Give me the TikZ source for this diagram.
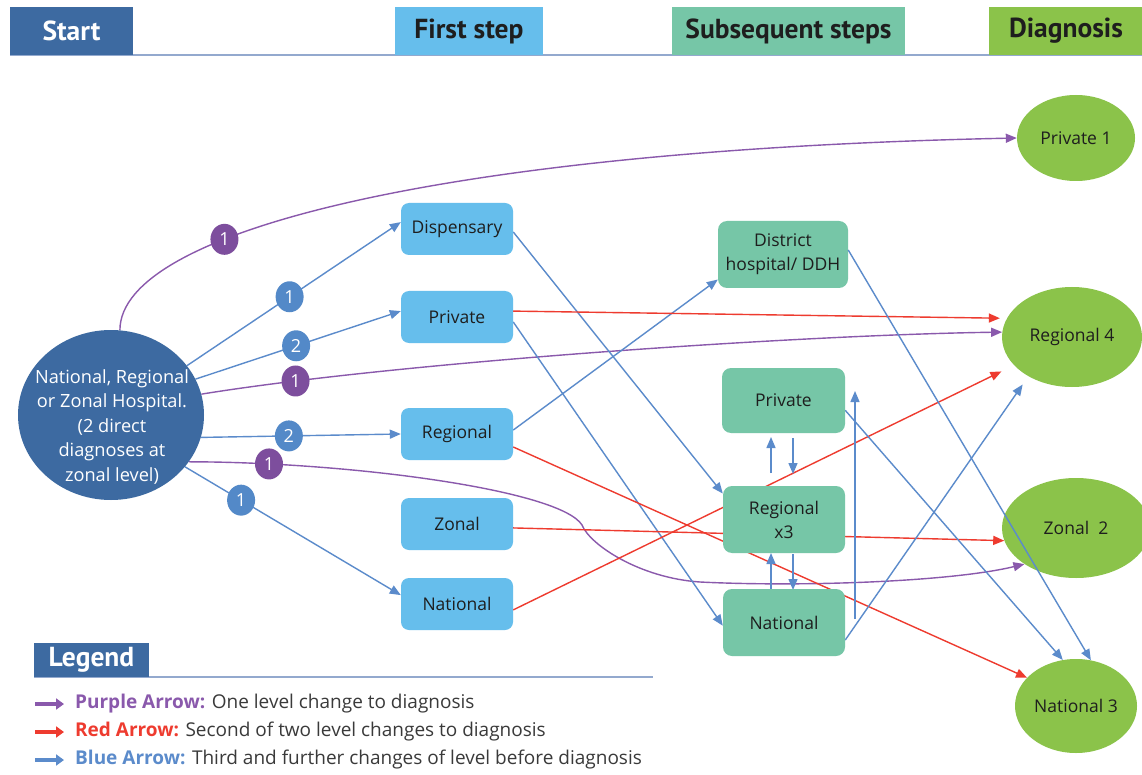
\documentclass[tikz,border=0pt]{standalone}
\usepackage{fontspec}
\setmainfont{Open Sans}
\newfontfamily\hdrfam{PT Sans}
\usetikzlibrary{arrows.meta,shapes.geometric,backgrounds}
\definecolor{dblue}{HTML}{3D6AA1}
\definecolor{lblue}{HTML}{66BEEC}
\definecolor{tealb}{HTML}{76C6A7}
\definecolor{lgreen}{HTML}{8BC34A}
\definecolor{purp}{HTML}{8A59AC}
\definecolor{purpf}{HTML}{7D4E9D}
\definecolor{redl}{HTML}{EE3B2F}
\definecolor{bluel}{HTML}{5B8BCB}
\definecolor{bluef}{HTML}{5389C8}
\definecolor{rulec}{HTML}{93A9CE}
\definecolor{txt}{HTML}{1E1E1E}
\definecolor{gtxt}{HTML}{3A3A3A}
\tikzset{
  hdr/.style={rectangle,inner sep=0pt,minimum height=48pt,text=txt,font=\hdrfam\bfseries\fontsize{27.5}{30}\selectfont},
  fbox/.style={rectangle,rounded corners=8pt,fill=lblue,minimum width=112pt,minimum height=52pt,inner sep=0pt,text=txt,font=\fontsize{17.5}{23}\selectfont,align=center},
  sbox/.style={rectangle,rounded corners=9pt,fill=tealb,inner sep=0pt,text=txt,font=\fontsize{17.5}{24}\selectfont,align=center},
  diag/.style={ellipse,fill=lgreen,inner sep=0pt,text=txt,font=\fontsize{17.5}{22}\selectfont},
  lbl/.style={ellipse,fill=#1,minimum width=28pt,minimum height=31pt,inner sep=0pt,text=white,font=\fontsize{18}{20}\selectfont},
  arrowtip/.style={-{Triangle[length=11pt,width=9pt]}},
  bl/.style={draw=bluel,line width=1.4pt,arrowtip},
  rl/.style={draw=redl,line width=1.4pt,arrowtip},
  pl/.style={draw=purp,line width=1.4pt,arrowtip},
  legarr/.style={line width=3.5pt,-{Triangle[length=8pt,width=11pt]}},
  legtxt/.style={anchor=west,inner sep=0pt,text=gtxt,font=\fontsize{19}{21}\selectfont},
}
\begin{document}
\begin{tikzpicture}[x=1pt,y=-1pt]
\useasboundingbox (0,0) rectangle (1142,775);
\begin{pgfonlayer}{background}
\fill[white] (0,0) rectangle (1142,775);
\end{pgfonlayer}

% header
\draw[rulec,line width=2pt] (10,55) -- (1142,55);
\node[hdr,fill=dblue,minimum width=123pt,text=white] (hstart) at (71.5,31) {Start};
\node[hdr,fill=lblue,minimum width=148pt] (hfirst) at (469,31) {First step};
\node[hdr,fill=tealb,minimum width=233pt] (hsub) at (788.5,31) {Subsequent steps};
\node[hdr,fill=lgreen,minimum width=154pt] (hdiag) at (1066,31) {Diagnosis};

% start
\node[ellipse,fill=dblue,minimum width=186pt,minimum height=170pt,inner sep=0pt] (start) at (111,415) {};
\node[align=center,text=white,inner sep=0pt,font=\fontsize{18.2}{24.5}\selectfont] (starttext) at (112,427)
  {National, Regional\\or Zonal Hospital.\\(2 direct\\diagnoses at\\zonal level)};

% first step
\node[fbox] (disp) at (457,229) {Dispensary};
\node[fbox] (priv1) at (457,317) {Private};
\node[fbox] (reg1) at (457,434) {Regional};
\node[fbox] (zon1) at (457,524) {Zonal};
\node[fbox] (nat1) at (457,604) {National};

% subsequent
\node[sbox,minimum width=130pt,minimum height=67pt] (ddh) at (783,254.5) {District\\hospital/ DDH};
\node[sbox,minimum width=123pt,minimum height=65pt] (privS) at (783.5,400.5) {Private};
\node[sbox,minimum width=122pt,minimum height=67pt] (regS) at (784,519.5) {Regional\\x3};
\node[sbox,minimum width=122pt,minimum height=67pt] (natS) at (784,622.5) {National};

% diagnosis
\node[diag,minimum width=118pt,minimum height=86pt] (dpriv) at (1076,138) {Private 1};
\node[diag,minimum width=140pt,minimum height=100pt] (dreg) at (1072,337) {Regional 4};
\node[diag,minimum width=148pt,minimum height=100pt] (dzon) at (1076,528) {Zonal~~2};
\node[diag,minimum width=122pt,minimum height=94pt] (dnat) at (1076,706) {National 3};

% free coordinates
\coordinate (a1s) at (771,473); \coordinate (a1e) at (771,437);
\coordinate (a2s) at (793,438); \coordinate (a2e) at (793,474);
\coordinate (a3s) at (771,589); \coordinate (a3e) at (771,553);
\coordinate (a4s) at (793,554); \coordinate (a4e) at (793,590);
\coordinate (vb) at (855,619); \coordinate (vt) at (855,391);

\begin{pgfonlayer}{background}
% purple
\draw[pl] (start.84) .. controls (120,230) and (450,150) .. (dpriv.180) node[lbl=purpf,pos=0.33]{1};
\draw[pl] (start.13) .. controls (400,362) and (800,335) .. (dreg.176) node[lbl=purpf,pos=0.14]{1};
\draw[pl] (start.-31) .. controls (350,462) and (560,490) .. (582,525) node[lbl=purpf,pos=0.16]{1}
   .. controls (590,545) and (640,578) .. (700,582)
   .. controls (800,587) and (950,582) .. (dzon.215);
% blue from start
\draw[bl] (start.33) -- (disp.173) node[lbl=bluef,pos=0.48]{1};
\draw[bl] (start.23) -- (priv1.174) node[lbl=bluef,pos=0.49]{2};
\draw[bl] (start.-14) -- (reg1.west) node[lbl=bluef,pos=0.44]{2};
\draw[bl] (start.-35) -- (nat1.171) node[lbl=bluef,pos=0.26]{1};
% blue from first step
\draw[bl] (disp.-3) -- (regS.157);
\draw[bl] (priv1.-5) -- (natS.183);
\draw[bl] (reg1.4) -- (ddh.201);
% red
\draw[rl,shorten >=7pt] (priv1.6) -- (dreg.164);
\draw[rl] (reg1.-13) -- (dnat.150);
\draw[rl] (zon1.-4) -- (dzon.190);
\draw[rl,shorten >=14pt] (nat1.-6) -- (dreg.206);
% blue subsequent
\draw[bl] (privS.-9) -- (dnat.106);
\draw[bl,shorten >=10pt] (natS.-16) -- (dreg.222);
\draw[bl] (vb) -- (vt);
\draw[bl] (a1s) -- (a1e);
\draw[bl] (a2s) -- (a2e);
\draw[bl] (a3s) -- (a3e);
\draw[bl] (a4s) -- (a4e);
\end{pgfonlayer}
\draw[bl] (ddh.4) -- (dnat.72);

% legend
\draw[rulec,line width=1.5pt] (34,677) -- (653,677);
\node[hdr,fill=dblue,minimum width=115pt,minimum height=34pt,text=white] (leg) at (91.5,660) {Legend};
\coordinate (l1s) at (35,704); \coordinate (l1e) at (64,704);
\coordinate (l2s) at (35,732); \coordinate (l2e) at (64,732);
\coordinate (l3s) at (35,760); \coordinate (l3e) at (64,760);
\draw[legarr,purp] (l1s) -- (l1e);
\draw[legarr,redl] (l2s) -- (l2e);
\draw[legarr,bluel] (l3s) -- (l3e);
\node[legtxt] (lt1) at (75,704) {\textcolor{purp}{\bfseries Purple Arrow:} One level change to diagnosis};
\node[legtxt] (lt2) at (75,732) {\textcolor{redl}{\bfseries Red Arrow:} Second of two level changes to diagnosis};
\node[legtxt] (lt3) at (75,760) {\textcolor{bluel}{\bfseries Blue Arrow:} Third and further changes of level before diagnosis};
\end{tikzpicture}
\end{document}
